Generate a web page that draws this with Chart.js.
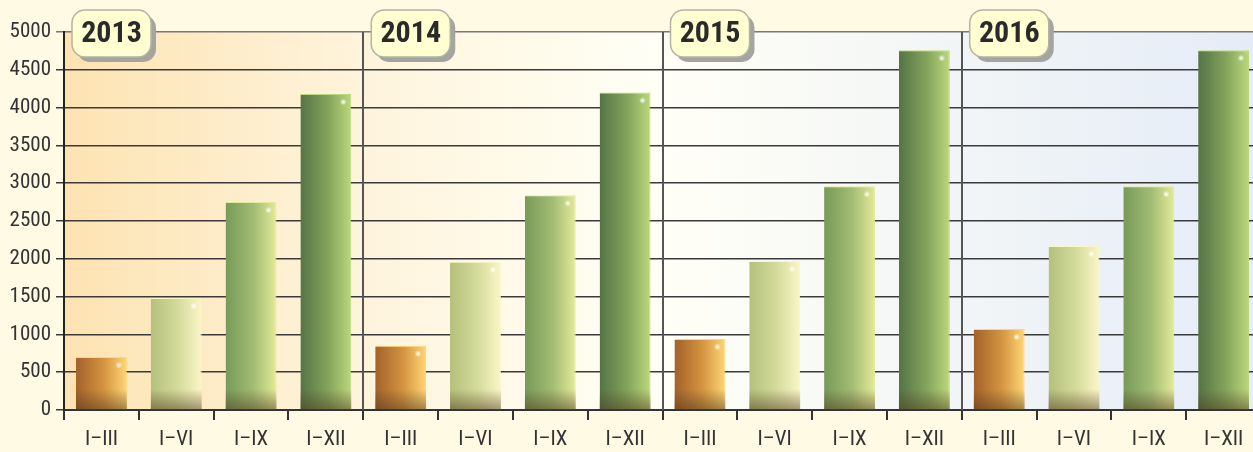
<!DOCTYPE html>
<html>
<head>
<meta charset="utf-8">
<script src="https://cdn.jsdelivr.net/npm/chart.js@4/dist/chart.umd.min.js"></script>
<style>
  html, body { margin: 0; padding: 0; background: #fefae3; overflow: hidden; }
  #wrap { width: 1261px; height: 452px; position: relative; }
</style>
</head>
<body>
<div id="wrap"><canvas id="chart"></canvas></div>
<script>
const years = ['2013', '2014', '2015', '2016'];
const periods = ['I–III', 'I–VI', 'I–IX', 'I–XII'];
const values2013 = [700, 1480, 2750, 4180];
const values2014 = [850, 1960, 2840, 4200];
const values2015 = [940, 1970, 2960, 4760];
const values2016 = [1070, 2170, 2960, 4760];
const yTicks = [0, 500, 1000, 1500, 2000, 2500, 3000, 3500, 4000, 4500, 5000];

const FONT = '"Liberation Sans Narrow", "Roboto Condensed", "Liberation Sans", Arial, sans-serif';
const BAR_PCT = 0.68;

// bar gradient stops per period (left -> right)
const barStops = [
  ['#a2622a', '#d49440', '#ffd676'],
  ['#b4c07c', '#d4dc9c', '#fbf6c8'],
  ['#789a58', '#a2bc74', '#e4ea98'],
  ['#557446', '#84a45c', '#bcd87c'],
];

const labels = [];
const values = [];
[values2013, values2014, values2015, values2016].forEach((arr) => {
  arr.forEach((v, i) => {
    labels.push(periods[i]);
    values.push(v);
  });
});

const barFill = (ctx) => {
  const stops = barStops[ctx.dataIndex % 4];
  const x = ctx.chart.scales.x;
  if (!x || x.right === undefined) return stops[1];
  const w = (x.right - x.left) / labels.length * BAR_PCT;
  const cx = x.getPixelForValue(ctx.dataIndex);
  if (!isFinite(cx)) return stops[1];
  const grd = ctx.chart.ctx.createLinearGradient(cx - w / 2, 0, cx + w / 2, 0);
  grd.addColorStop(0, stops[0]);
  grd.addColorStop(0.55, stops[1]);
  grd.addColorStop(1, stops[2]);
  return grd;
};

// plot background, year separators, badges
const backdrop = {
  id: 'backdrop',
  beforeDraw(chart) {
    const { ctx, chartArea: a } = chart;
    const grd = ctx.createLinearGradient(a.left, 0, a.right, 0);
    grd.addColorStop(0, '#fde3b2');
    grd.addColorStop(0.25, '#fef4dc');
    grd.addColorStop(0.5, '#fffff6');
    grd.addColorStop(0.75, '#f2f5f6');
    grd.addColorStop(1, '#e4ecf8');
    ctx.save();
    ctx.fillStyle = grd;
    ctx.fillRect(a.left, a.top, a.right - a.left, a.bottom - a.top);
    ctx.restore();
  },
  beforeDatasetsDraw(chart) {
    const { ctx, chartArea: a, scales: { x } } = chart;
    ctx.save();
    ctx.strokeStyle = '#555';
    ctx.lineWidth = 2;
    for (let g = 1; g < years.length; g++) {
      const px = Math.round((x.getPixelForValue(g * 4 - 1) + x.getPixelForValue(g * 4)) / 2);
      ctx.beginPath();
      ctx.moveTo(px, a.top);
      ctx.lineTo(px, a.bottom);
      ctx.stroke();
    }
    ctx.restore();
  },
  afterDatasetsDraw(chart) {
    const { ctx, scales: { x } } = chart;
    const meta = chart.getDatasetMeta(0);
    const catW = (x.right - x.left) / labels.length;
    ctx.save();
    // bottom shading and gloss dot on each bar
    meta.data.forEach((bar) => {
      const { x: bx, y: by, base, width } = bar.getProps(['x', 'y', 'base', 'width'], true);
      const l = bx - width / 2;
      const sh = ctx.createLinearGradient(0, base - 20, 0, base);
      sh.addColorStop(0, 'rgba(80,55,30,0)');
      sh.addColorStop(1, 'rgba(80,55,30,0.5)');
      ctx.fillStyle = sh;
      ctx.fillRect(l, Math.max(by, base - 20), width, Math.min(20, base - by));
      const dot = ctx.createRadialGradient(l + width - 8, by + 8, 0, l + width - 8, by + 8, 3.5);
      dot.addColorStop(0, 'rgba(255,255,255,1)');
      dot.addColorStop(1, 'rgba(255,255,255,0)');
      ctx.fillStyle = dot;
      ctx.fillRect(l + width - 12, by + 4, 8, 8);
    });
    // year badges
    ctx.font = 'bold 30px ' + FONT;
    ctx.textAlign = 'center';
    ctx.textBaseline = 'middle';
    years.forEach((yr, g) => {
      const boundary = x.getPixelForValue(g * 4) - catW / 2;
      const bx = boundary + 8;
      const by = 10;
      const w = 79;
      const h = 47;
      ctx.fillStyle = '#a4a4a0';
      ctx.beginPath();
      ctx.roundRect(bx + 5, by + 5, w, h, 13);
      ctx.fill();
      ctx.fillStyle = '#ffffd2';
      ctx.strokeStyle = '#b4b4a4';
      ctx.lineWidth = 1.5;
      ctx.beginPath();
      ctx.roundRect(bx, by, w, h, 13);
      ctx.fill();
      ctx.stroke();
      ctx.fillStyle = '#2a2a2a';
      ctx.fillText(yr, bx + w / 2, by + h / 2 + 1);
    });
    ctx.restore();
  },
};

new Chart(document.getElementById('chart'), {
  type: 'bar',
  data: {
    labels,
    datasets: [{
      data: values,
      backgroundColor: barFill,
      borderColor: (ctx) => barStops[ctx.dataIndex % 4][2],
      borderWidth: { top: 1, left: 0, right: 1, bottom: 0 },
      barPercentage: BAR_PCT,
      categoryPercentage: 1,
    }],
  },
  options: {
    responsive: true,
    maintainAspectRatio: false,
    animation: false,
    layout: { padding: { top: 32, right: 0, left: 0, bottom: 0 } },
    plugins: {
      legend: { display: false },
      tooltip: { enabled: false },
    },
    scales: {
      x: {
        offset: true,
        grid: {
          offset: true,
          drawOnChartArea: false,
          drawTicks: true,
          tickLength: 10,
          color: '#333',
          lineWidth: 2,
        },
        border: { display: true, color: '#333', width: 2 },
        ticks: {
          color: '#333',
          padding: 7,
          font: { family: FONT, size: 21 },
          maxRotation: 0,
          autoSkip: false,
        },
        afterFit: (scale) => { scale.height = 42; },
      },
      y: {
        min: 0,
        max: 5000,
        afterBuildTicks: (scale) => { scale.ticks = yTicks.map((v) => ({ value: v })); },
        grid: {
          color: (ctx) => (ctx.tick.value === 5000 ? '#777' : '#3a3a3a'),
          lineWidth: 1.5,
          tickLength: 8,
        },
        border: { display: true, color: '#222', width: 2 },
        ticks: {
          color: '#333',
          padding: 5,
          font: { family: FONT, size: 21 },
          callback: (v) => String(v),
        },
        afterFit: (scale) => { scale.width = 64; },
      },
    },
  },
  plugins: [backdrop],
});
</script>
</body>
</html>
